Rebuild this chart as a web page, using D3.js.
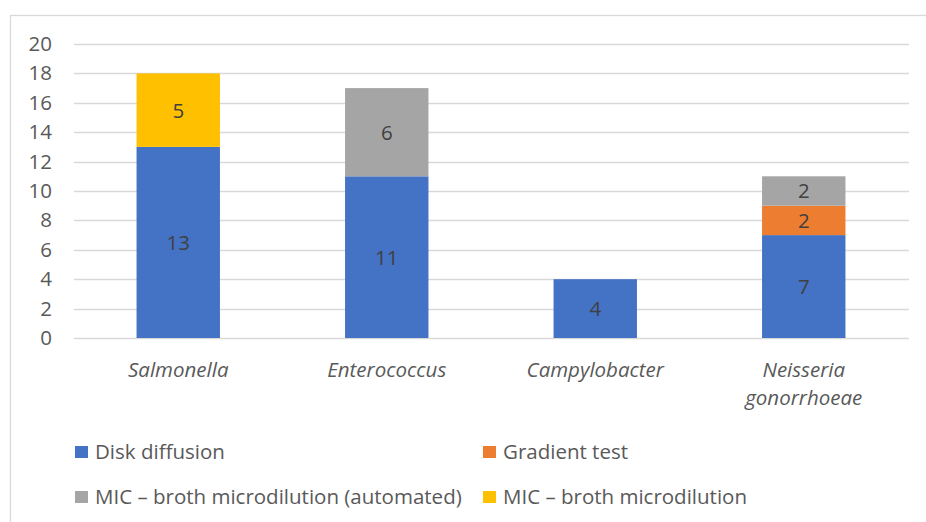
<!DOCTYPE html>
<html>
<head>
<meta charset="utf-8">
<script src="https://cdn.jsdelivr.net/npm/d3@7"></script>
<style>
  body { margin: 0; background: #fff; }
  svg { display: block; font-family: "Open Sans", Lato, sans-serif; }
</style>
</head>
<body>
<script>
// data
var categories = ["Salmonella", "Enterococcus", "Campylobacter", "Neisseria gonorrhoeae"];
var catLines = [["Salmonella"], ["Enterococcus"], ["Campylobacter"], ["Neisseria", "gonorrhoeae"]];
var seriesNames = ["Disk diffusion", "Gradient test", "MIC \u2013 broth microdilution (automated)", "MIC \u2013 broth microdilution"];
var seriesColors = ["#4472c4", "#ed7d31", "#a5a5a5", "#ffc000"];
var diskDiffusion = [13, 11, 4, 7];
var gradientTest = [0, 0, 0, 2];
var micAutomated = [0, 6, 0, 2];
var micBroth = [5, 0, 0, 0];
var yTicks = [0, 2, 4, 6, 8, 10, 12, 14, 16, 18, 20];

var W = 926, H = 522;
var fontSize = 20.5;
var svg = d3.select("body").append("svg")
    .attr("width", W)
    .attr("height", H);

// chart frame
svg.append("rect")
    .attr("x", 10.5).attr("y", 15.5)
    .attr("width", W + 20).attr("height", H + 20)
    .attr("fill", "none")
    .attr("stroke", "#d9d9d9")
    .attr("stroke-width", 1.3);

var x = d3.scaleBand().domain(categories).range([74, 908]).paddingInner(0.6).paddingOuter(0.3);
var y = d3.scaleLinear().domain([0, 20]).range([338, 44]);

// gridlines
svg.append("g").selectAll("line")
    .data(yTicks).enter().append("line")
    .attr("x1", 74).attr("x2", 909)
    .attr("y1", function(d){ return Math.round(y(d)) + 0.5; })
    .attr("y2", function(d){ return Math.round(y(d)) + 0.5; })
    .attr("stroke", "#d9d9d9")
    .attr("stroke-width", 1.3);

// y axis labels
var yAxis = svg.append("g")
    .attr("transform", "translate(52,0)")
    .call(d3.axisLeft(y).tickValues(yTicks).tickSize(0).tickPadding(0));
yAxis.select(".domain").remove();
yAxis.selectAll("text")
    .attr("font-family", "'Open Sans', Lato, sans-serif")
    .attr("font-size", fontSize)
    .attr("fill", "#595959");

// stack the series
var table = categories.map(function(c, i){
  return {cat: c, s0: diskDiffusion[i], s1: gradientTest[i], s2: micAutomated[i], s3: micBroth[i]};
});
var stack = d3.stack().keys(["s0", "s1", "s2", "s3"])(table);

var layers = svg.append("g").selectAll("g")
    .data(stack).enter().append("g")
    .attr("fill", function(d, i){ return seriesColors[i]; });

layers.selectAll("rect")
    .data(function(d){ return d.filter(function(p){ return p[1] - p[0] > 0; }); })
    .enter().append("rect")
    .attr("x", function(d){ return x(d.data.cat); })
    .attr("width", x.bandwidth())
    .attr("y", function(d){ return y(d[1]); })
    .attr("height", function(d){ return y(d[0]) - y(d[1]); });

layers.selectAll("text")
    .data(function(d){ return d.filter(function(p){ return p[1] - p[0] > 0; }); })
    .enter().append("text")
    .attr("x", function(d){ return x(d.data.cat) + x.bandwidth() / 2; })
    .attr("y", function(d){ return (y(d[0]) + y(d[1])) / 2; })
    .attr("dy", "0.36em")
    .attr("text-anchor", "middle")
    .attr("font-size", fontSize)
    .attr("fill", "#404040")
    .text(function(d){ return d[1] - d[0]; });

// category labels
var catG = svg.append("g").selectAll("text")
    .data(categories).enter().append("text")
    .attr("x", function(d){ return x(d) + x.bandwidth() / 2; })
    .attr("y", 377)
    .attr("text-anchor", "middle")
    .attr("font-size", fontSize)
    .attr("font-style", "italic")
    .attr("fill", "#595959");
catG.each(function(d, i){
  var t = d3.select(this);
  catLines[i].forEach(function(line, j){
    t.append("tspan").attr("x", x(d) + x.bandwidth() / 2).attr("dy", j ? 28 : 0).text(line);
  });
});

// legend
var legendPos = [[75, 452], [483, 452], [75, 497], [483, 497]];
var leg = svg.append("g").selectAll("g")
    .data(seriesNames).enter().append("g")
    .attr("transform", function(d, i){ return "translate(" + legendPos[i][0] + "," + legendPos[i][1] + ")"; });
leg.append("rect")
    .attr("x", 0).attr("y", -6)
    .attr("width", 13).attr("height", 12)
    .attr("fill", function(d, i){ return seriesColors[i]; });
leg.append("text")
    .attr("x", 20).attr("dy", "0.36em")
    .attr("font-size", fontSize)
    .attr("fill", "#595959")
    .text(function(d){ return d; });
</script>
</body>
</html>
